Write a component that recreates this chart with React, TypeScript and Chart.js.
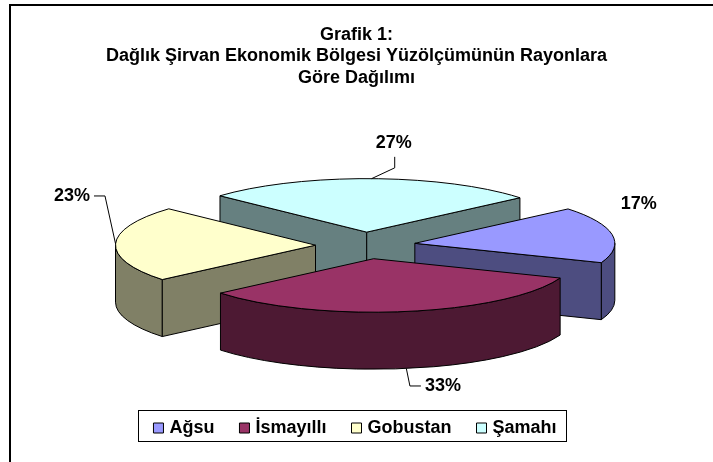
import React, { useEffect, useRef } from 'react';
import { Chart, registerables } from 'chart.js';

Chart.register(...registerables);

// ---------- data ----------
const TITLE_LINES = ['Grafik 1:', 'Dağlık Şirvan Ekonomik Bölgesi Yüzölçümünün Rayonlara', 'Göre Dağılımı'];
const CATEGORIES = ['Ağsu', 'İsmayıllı', 'Gobustan', 'Şamahı'];
const SHARES = [17, 33, 23, 27];

// ---------- styles ----------
const TOP_COLORS = ['#9999FF', '#993366', '#FFFFCC', '#CCFFFF'];
const SIDE_COLORS = ['#4D4D80', '#4D1933', '#808066', '#668080'];
const LABEL_LAYOUT = [
  { dx: 26.5, dy: -30.6, leader: false },
  { dx: 36.6, dy: 17.5, leader: true },
  { dx: -43.6, dy: -47.9, leader: true },
  { dx: 22.1, dy: -35.3, leader: true },
];
const FONT = '"Liberation Sans", Arial, Helvetica, sans-serif';
const PIE3D = { tilt: 0.2675, depth: 57, explode: 50, shiftX: 9, shiftY: 0.6 };

function sliceGeom(arc: any, o: any) {
  const p = arc.getProps(['x', 'y', 'startAngle', 'endAngle', 'outerRadius'], true);
  const m = (p.startAngle + p.endAngle) / 2;
  const cx = p.x + o.shiftX + o.explode * Math.cos(m);
  const cy = p.y + o.shiftY + o.explode * Math.sin(m) * o.tilt;
  return { ...p, m, cx, cy, R: p.outerRadius, r: p.outerRadius * o.tilt };
}

const framePlugin = {
  id: 'frame',
  beforeDraw(chart: any) {
    const ctx = chart.ctx;
    ctx.save();
    ctx.fillStyle = '#fff';
    ctx.fillRect(0, 0, chart.width, chart.height);
    ctx.strokeStyle = '#000';
    ctx.lineWidth = 2;
    ctx.strokeRect(10, 5, chart.width + 100, chart.height + 100);
    ctx.restore();
  },
};

const pie3dPlugin = {
  id: 'pie3d',
  beforeDatasetsDraw(chart: any) {
    const o = PIE3D;
    const ctx = chart.ctx;
    const meta = chart.getDatasetMeta(0);
    const arcs = meta.data;
    const geoms = arcs.map((a: any) => sliceGeom(a, o));
    const order = geoms.map((_: any, i: number) => i).sort((a: number, b: number) => Math.sin(geoms[a].m) - Math.sin(geoms[b].m));
    const D = o.depth;
    ctx.save();
    ctx.lineWidth = 1;
    ctx.strokeStyle = '#000';
    ctx.lineJoin = 'round';
    for (const i of order) {
      const g = geoms[i];
      const s = g.startAngle, e = g.endAngle;
      const P = (t: number, dz = 0) => [g.cx + g.R * Math.cos(t), g.cy + g.r * Math.sin(t) + dz];
      ctx.fillStyle = SIDE_COLORS[i];
      // outer curved wall (front half only)
      for (let n = -1; n <= 1; n++) {
        const lo = Math.max(s, 2 * Math.PI * n);
        const hi = Math.min(e, Math.PI + 2 * Math.PI * n);
        if (hi > lo) {
          ctx.beginPath();
          ctx.ellipse(g.cx, g.cy, g.R, g.r, 0, lo, hi);
          ctx.ellipse(g.cx, g.cy + D, g.R, g.r, 0, hi, lo, true);
          ctx.closePath();
          ctx.fill();
          ctx.stroke();
        }
      }
      // radial walls
      const wall = (t: number) => {
        const [px, py] = P(t);
        ctx.beginPath();
        ctx.moveTo(g.cx, g.cy);
        ctx.lineTo(px, py);
        ctx.lineTo(px, py + D);
        ctx.lineTo(g.cx, g.cy + D);
        ctx.closePath();
        ctx.fill();
        ctx.stroke();
      };
      if (Math.cos(s) < 0) wall(s);
      if (Math.cos(e) > 0) wall(e);
      // top face through the library's arc element
      ctx.save();
      ctx.translate(g.cx, g.cy);
      ctx.scale(1, o.tilt);
      ctx.translate(-g.x, -g.y);
      arcs[i].draw(ctx);
      ctx.restore();
      ctx.beginPath();
      ctx.moveTo(g.cx, g.cy);
      ctx.ellipse(g.cx, g.cy, g.R, g.r, 0, s, e);
      ctx.closePath();
      ctx.stroke();
    }
    ctx.restore();
    return false;
  },
  afterDraw(chart: any) {
    const o = PIE3D;
    const ctx = chart.ctx;
    const meta = chart.getDatasetMeta(0);
    const vals = chart.data.datasets[0].data as number[];
    const total = vals.reduce((a, b) => a + b, 0);
    ctx.save();
    ctx.font = `bold 18px ${FONT}`;
    ctx.fillStyle = '#000';
    ctx.strokeStyle = '#000';
    ctx.lineWidth = 1;
    ctx.textAlign = 'center';
    ctx.textBaseline = 'middle';
    meta.data.forEach((arc: any, i: number) => {
      const g = sliceGeom(arc, o);
      const front = Math.sin(g.m) > 0;
      const ax = g.cx + g.R * Math.cos(g.m);
      const ay = g.cy + g.r * Math.sin(g.m) + (front ? o.depth : 0);
      const L = LABEL_LAYOUT[i];
      const lx = ax + L.dx, ly = ay + L.dy;
      const text = Math.round((vals[i] / total) * 100) + '%';
      const tw = ctx.measureText(text).width;
      if (L.leader) {
        ctx.beginPath();
        if (Math.abs(L.dx) < tw / 2 + 10) {
          const sy = L.dy < 0 ? ly + 13.5 : ly - 13.5;
          const ey = L.dy < 0 ? sy + 11 : sy - 11;
          ctx.moveTo(lx + 1, sy);
          ctx.lineTo(lx + 1, ey);
        } else {
          const side = L.dx < 0 ? 1 : -1;
          const sx = lx + side * (tw / 2 + 4);
          ctx.moveTo(sx, ly);
          ctx.lineTo(sx + side * 11, ly);
        }
        ctx.lineTo(ax, ay);
        ctx.stroke();
      }
      ctx.fillText(text, lx, ly);
    });
    // legend frame
    const lg = chart.legend;
    const hb = lg.legendHitBoxes;
    if (hb && hb.length) {
      const last = hb[hb.length - 1];
      const left = hb[0].left - 18;
      const right = last.left + last.width + 10;
      const top = hb[0].top - 9;
      const bottom = hb[0].top + hb[0].height + 4;
      ctx.strokeStyle = '#000';
      ctx.lineWidth = 1;
      ctx.strokeRect(Math.round(left) + 0.5, Math.round(top) + 0.5, Math.round(right - left), Math.round(bottom - top));
    }
    ctx.restore();
  },
};

export default function App() {
  const ref = useRef<HTMLCanvasElement | null>(null);
  useEffect(() => {
    document.body.style.margin = '0';
    const canvas = ref.current;
    if (!canvas) return;
    const chart = new Chart(canvas, {
      type: 'pie',
      data: {
        labels: CATEGORIES,
        datasets: [
          {
            data: SHARES,
            backgroundColor: TOP_COLORS,
            borderWidth: 0,
            offset: 0,
            radius: 200,
            rotation: 50,
          } as any,
        ],
      },
      options: {
        responsive: false,
        devicePixelRatio: 1,
        animation: false,
        events: [],
        layout: { padding: { bottom: 15 } },
        plugins: {
          tooltip: { enabled: false },
          title: {
            display: true,
            text: TITLE_LINES,
            color: '#000',
            font: { family: FONT, size: 18, weight: 'bold', lineHeight: 1.2 },
            padding: { top: 24, bottom: 10 },
          },
          legend: {
            display: true,
            position: 'bottom',
            labels: {
              usePointStyle: true,
              boxWidth: 4,
              boxHeight: 10,
              padding: 28,
              color: '#000',
              font: { family: FONT, size: 18, weight: 'bold' },
              generateLabels: () =>
                CATEGORIES.map((t, i) => ({
                  text: t,
                  fillStyle: TOP_COLORS[i],
                  strokeStyle: '#000',
                  lineWidth: 1,
                  pointStyle: 'rect',
                  hidden: false,
                  index: i,
                  fontColor: '#000',
                })),
            },
          },
        },
      } as any,
      plugins: [framePlugin, pie3dPlugin],
    });
    return () => chart.destroy();
  }, []);
  return <canvas ref={ref} width={713} height={462} style={{ display: 'block', width: 713, height: 462 }} />;
}
